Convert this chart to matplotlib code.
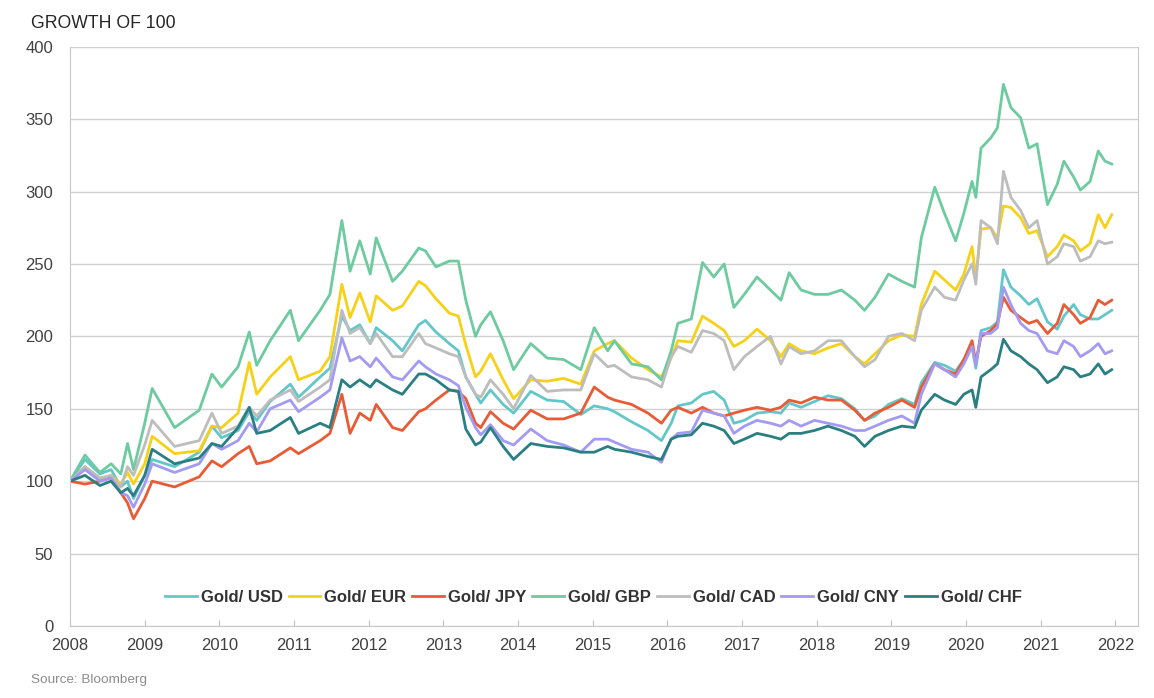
import matplotlib.pyplot as plt

# Zeitachse (Dezimaljahre)
t = [2008.0, 2008.2, 2008.4, 2008.55, 2008.68, 2008.77, 2008.85, 2009.0, 2009.1, 2009.4,
     2009.73, 2009.9, 2010.03, 2010.25, 2010.4, 2010.5, 2010.68, 2010.95, 2011.06, 2011.35,
     2011.48, 2011.64, 2011.75, 2011.88, 2012.02, 2012.1, 2012.32, 2012.45, 2012.67, 2012.76,
     2012.9, 2013.08, 2013.2, 2013.3, 2013.43, 2013.5, 2013.63, 2013.8, 2013.94, 2014.17,
     2014.39, 2014.61, 2014.84, 2015.02, 2015.2, 2015.29, 2015.52, 2015.74, 2015.92, 2016.05,
     2016.14, 2016.32, 2016.47, 2016.62, 2016.76, 2016.89, 2017.03, 2017.2, 2017.38, 2017.52,
     2017.63, 2017.79, 2017.97, 2018.15, 2018.33, 2018.51, 2018.64, 2018.78, 2018.96, 2019.14,
     2019.31, 2019.4, 2019.58, 2019.71, 2019.86, 2019.97, 2020.08, 2020.13, 2020.2, 2020.33,
     2020.42, 2020.5, 2020.6, 2020.73, 2020.84, 2020.95, 2021.09, 2021.22, 2021.31, 2021.44,
     2021.53, 2021.66, 2021.77, 2021.86, 2021.95]

usd = [100, 115, 105, 108, 96, 100, 88, 104, 115, 110,
       120, 138, 130, 135, 148, 142, 155, 167, 158, 172,
       178, 214, 204, 208, 195, 206, 197, 190, 208, 211,
       203, 195, 190, 172, 160, 154, 163, 153, 147, 162,
       156, 155, 146, 152, 150, 148, 141, 135, 128, 140,
       152, 154, 160, 162, 156, 140, 142, 147, 148, 147,
       154, 151, 155, 159, 157, 150, 142, 145, 153, 157,
       153, 168, 182, 180, 176, 184, 193, 178, 204, 206,
       210, 246, 234, 228, 222, 226, 210, 205, 214, 222,
       215, 212, 212, 215, 218]

eur = [100, 110, 102, 104, 98, 106, 98, 112, 131, 119,
       121, 138, 137, 147, 182, 160, 172, 186, 170, 176,
       186, 236, 213, 230, 210, 228, 218, 221, 238, 235,
       226, 216, 214, 194, 172, 176, 188, 170, 157, 170,
       169, 171, 167, 190, 195, 197, 185, 177, 172, 185,
       197, 196, 214, 209, 204, 193, 197, 205, 197, 186,
       195, 190, 188, 192, 195, 186, 181, 188, 197, 201,
       200, 222, 245, 239, 232, 243, 262, 240, 274, 275,
       268, 290, 289, 282, 271, 273, 255, 262, 270, 266,
       259, 264, 284, 275, 284]

jpy = [100, 98, 100, 103, 92, 85, 74, 88, 100, 96,
       103, 114, 110, 119, 124, 112, 114, 123, 119, 128,
       133, 160, 133, 147, 142, 153, 137, 135, 148, 150,
       156, 163, 162, 157, 140, 137, 148, 140, 136, 149,
       143, 143, 147, 165, 158, 156, 153, 147, 140, 149,
       151, 147, 151, 147, 145, 147, 149, 151, 149, 151,
       156, 154, 158, 156, 156, 149, 142, 147, 151, 156,
       151, 165, 181, 177, 174, 184, 197, 182, 200, 204,
       209, 227, 218, 213, 209, 211, 202, 209, 222, 215,
       209, 213, 225, 222, 225]

gbp = [100, 118, 106, 112, 105, 126, 108, 140, 164, 137,
       149, 174, 165, 179, 203, 180, 197, 218, 197, 218,
       229, 280, 245, 266, 243, 268, 238, 245, 261, 259,
       248, 252, 252, 225, 200, 208, 217, 197, 177, 195,
       185, 184, 177, 206, 190, 197, 181, 179, 170, 190,
       209, 212, 251, 241, 250, 220, 229, 241, 232, 225,
       244, 232, 229, 229, 232, 225, 218, 227, 243, 238,
       234, 268, 303, 285, 266, 285, 307, 296, 330, 337,
       344, 374, 358, 351, 330, 333, 291, 305, 321, 310,
       301, 307, 328, 321, 319]

cad = [100, 110, 102, 104, 96, 110, 104, 125, 142, 124,
       128, 147, 133, 138, 151, 145, 156, 163, 155, 165,
       170, 218, 202, 206, 195, 202, 186, 186, 202, 195,
       192, 188, 186, 172, 160, 158, 170, 160, 150, 173,
       162, 163, 163, 188, 179, 180, 172, 170, 165, 186,
       193, 189, 204, 202, 197, 177, 186, 193, 200, 181,
       193, 188, 190, 197, 197, 186, 179, 184, 200, 202,
       197, 218, 234, 227, 225, 239, 250, 236, 280, 275,
       264, 314, 296, 287, 275, 280, 250, 255, 264, 262,
       252, 255, 266, 264, 265]

cny = [100, 108, 100, 102, 92, 90, 82, 98, 112, 106,
       112, 126, 122, 128, 140, 134, 150, 156, 148, 158,
       163, 199, 183, 186, 179, 185, 172, 170, 183, 179,
       174, 170, 166, 151, 137, 132, 139, 128, 125, 136,
       128, 125, 120, 129, 129, 127, 122, 120, 113, 129,
       133, 134, 149, 147, 145, 133, 138, 142, 140, 138,
       142, 138, 142, 140, 138, 135, 135, 138, 142, 145,
       140, 160, 181, 177, 172, 181, 193, 180, 202, 202,
       206, 234, 222, 209, 204, 202, 190, 188, 197, 193,
       186, 190, 195, 188, 190]

chf = [100, 104, 97, 100, 92, 95, 90, 104, 122, 112,
       116, 126, 124, 137, 151, 133, 135, 144, 133, 140,
       137, 170, 165, 170, 165, 170, 163, 160, 174, 174,
       170, 163, 162, 136, 125, 127, 137, 124, 115, 126,
       124, 123, 120, 120, 124, 122, 120, 117, 115, 129,
       131, 132, 140, 138, 135, 126, 129, 133, 131, 129,
       133, 133, 135, 138, 135, 131, 124, 131, 135, 138,
       137, 149, 160, 156, 153, 160, 163, 151, 172, 177,
       181, 198, 190, 186, 181, 177, 168, 172, 179, 177,
       172, 174, 181, 174, 177]

labels = ['Gold/ USD', 'Gold/ EUR', 'Gold/ JPY', 'Gold/ GBP', 'Gold/ CAD', 'Gold/ CNY', 'Gold/ CHF']
series = [usd, eur, jpy, gbp, cad, cny, chf]
colors = ['#63c7ca', '#f7d117', '#e85b35', '#6dcb9f', '#bdbdbd', '#a39bf3', '#2a7f83']

years = list(range(2008, 2023))
y_ticks = list(range(0, 401, 50))

plt.rcParams['font.family'] = ['Liberation Sans', 'DejaVu Sans']

fig = plt.figure(figsize=(11.54, 6.98), dpi=100)
ax = fig.add_axes([0.0607, 0.1032, 0.9253, 0.8298])

for vals, lab, col in zip(series, labels, colors):
    ax.plot(t, vals, color=col, linewidth=2.0, label=lab)

ax.set_xlim(2008, 2022.3)
ax.set_ylim(0, 400)
ax.set_xticks(years)
ax.set_yticks(y_ticks)
ax.tick_params(axis='both', labelsize=12, colors='#404040')
ax.tick_params(axis='x', direction='in', length=4, color='#bfbfbf', pad=9)
ax.tick_params(axis='y', length=0, pad=12)
ax.grid(axis='y', color='#d0d0d0', linewidth=1)
ax.set_axisbelow(True)
for s in ax.spines.values():
    s.set_color('#c8c8c8')
ax.spines['top'].set_visible(False)

leg = ax.legend(loc='lower center', bbox_to_anchor=(0.49, 0.01), ncol=7, frameon=False,
                handlelength=1.9, columnspacing=0.35, handletextpad=0.25,
                prop={'family': ['Liberation Sans Narrow', 'Liberation Sans'], 'weight': 'bold', 'size': 12})
for txt in leg.get_texts():
    txt.set_color('#333333')

fig.text(0.027, 0.967, 'GROWTH OF 100', fontsize=12.7, color='#262626', va='center')
fig.text(0.027, 0.026, 'Source: Bloomberg', fontsize=9.7, color='#8c8c8c', va='center')

fig.savefig('out.png', dpi=100)
